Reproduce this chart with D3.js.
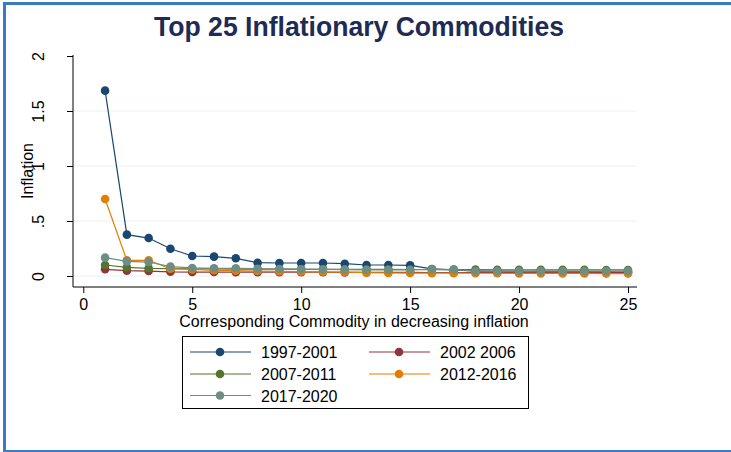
<!DOCTYPE html>
<html lang="en">
<head>
  <meta charset="UTF-8">
  <title>Top 25 Inflationary Commodities</title>
  <script src="https://d3js.org/d3.v7.min.js"></script>
  <style>
    body {
      margin: 0;
      background: white;
      font-family: "Liberation Sans", Arial, sans-serif;
    }
    svg { display: block; }
    .axis text { font-size: 16px; fill: #000; font-family: "Liberation Sans", Arial, sans-serif; }
    .axis path, .axis line { stroke: #000; }
  </style>
</head>
<body>
  <svg width="731" height="452"></svg>

  <script>
    // rank of commodity (1 = most inflationary)
    const ranks = d3.range(1, 26);

    const s1997 = [1.685, 0.376, 0.345, 0.248, 0.182, 0.176, 0.161, 0.121, 0.118, 0.118, 0.118, 0.112, 0.10,
                   0.10, 0.097, 0.064, 0.055, 0.045, 0.044, 0.043, 0.042, 0.041, 0.040, 0.038, 0.036];
    const s2002 = [0.061, 0.048, 0.045, 0.038, 0.036, 0.036, 0.035, 0.035, 0.034, 0.034, 0.034, 0.033, 0.033,
                   0.033, 0.033, 0.032, 0.032, 0.032, 0.031, 0.031, 0.031, 0.030, 0.030, 0.030, 0.030];
    const s2007 = [0.10, 0.079, 0.070, 0.067, 0.065, 0.064, 0.063, 0.062, 0.062, 0.061, 0.061, 0.060, 0.060,
                   0.060, 0.059, 0.059, 0.058, 0.058, 0.057, 0.057, 0.056, 0.056, 0.056, 0.055, 0.055];
    const s2012 = [0.70, 0.142, 0.142, 0.066, 0.060, 0.052, 0.048, 0.045, 0.042, 0.040, 0.038, 0.036, 0.030,
                   0.028, 0.027, 0.026, 0.026, 0.025, 0.025, 0.024, 0.024, 0.023, 0.023, 0.022, 0.022];
    const s2017 = [0.167, 0.133, 0.127, 0.085, 0.073, 0.070, 0.070, 0.066, 0.064, 0.062, 0.060, 0.058, 0.055,
                   0.055, 0.055, 0.060, 0.058, 0.046, 0.045, 0.045, 0.045, 0.045, 0.045, 0.045, 0.045];

    const seriesNames = ["1997-2001", "2002 2006", "2007-2011", "2012-2016", "2017-2020"];
    const seriesColors = ["#1a476f", "#90353b", "#55752f", "#e37e00", "#6e8e84"];
    const seriesValues = [s1997, s2002, s2007, s2012, s2017];

    const xTicks = [0, 5, 10, 15, 20, 25];
    const yTicks = [0, 0.5, 1, 1.5, 2];
    const yTickLabels = ["0", ".5", "1", "1.5", "2"];

    const svg = d3.select("svg");

    // frame: blue lines top, left and bottom
    const frame = "#3b7cc0";
    svg.append("line").attr("x1", 3).attr("x2", 731).attr("y1", 3.5).attr("y2", 3.5)
      .attr("stroke", frame).attr("stroke-width", 3);
    svg.append("line").attr("x1", 4.5).attr("x2", 4.5).attr("y1", 2).attr("y2", 452)
      .attr("stroke", frame).attr("stroke-width", 3);
    svg.append("line").attr("x1", 3).attr("x2", 731).attr("y1", 451).attr("y2", 451)
      .attr("stroke", frame).attr("stroke-width", 2);

    const x = d3.scaleLinear().domain([0, 25]).range([83.3, 628]);
    const y = d3.scaleLinear().domain([0, 2]).range([276, 56]);
    const plotLeft = 73, plotRight = 637, plotBottom = 287;

    // title
    svg.append("text")
      .attr("x", 359).attr("y", 36)
      .attr("text-anchor", "middle")
      .attr("font-size", 27)
      .attr("font-weight", "bold")
      .attr("fill", "#1e2b55")
      .attr("textLength", 410)
      .attr("lengthAdjust", "spacingAndGlyphs")
      .text("Top 25 Inflationary Commodities");

    // gridlines
    svg.append("g")
      .selectAll("line")
      .data(yTicks.slice(0, 4))
      .join("line")
      .attr("x1", plotLeft).attr("x2", plotRight)
      .attr("y1", d => y(d)).attr("y2", d => y(d))
      .attr("stroke", "#eaf2f3").attr("stroke-width", 1);

    // y axis
    const yAxis = svg.append("g")
      .attr("class", "axis")
      .attr("transform", `translate(${plotLeft},0)`)
      .call(d3.axisLeft(y).tickValues(yTicks).tickFormat((d, i) => yTickLabels[i]).tickSize(6).tickPadding(4));
    yAxis.select(".domain").attr("d", `M0,${y(2) - 1}V${plotBottom}`);
    yAxis.selectAll(".tick text")
      .attr("text-anchor", "middle")
      .attr("dy", null)
      .attr("x", null)
      .attr("transform", "translate(-29.5,0) rotate(-90)");

    // x axis
    const xAxis = svg.append("g")
      .attr("class", "axis")
      .attr("transform", `translate(0,${plotBottom})`)
      .call(d3.axisBottom(x).tickValues(xTicks).tickSize(6).tickPadding(6));
    xAxis.select(".domain").attr("d", `M${plotLeft},0H${plotRight}`);

    // axis titles
    svg.append("text")
      .attr("x", 354).attr("y", 327)
      .attr("text-anchor", "middle")
      .attr("font-size", 16)
      .text("Corresponding Commodity in decreasing inflation");

    svg.append("text")
      .attr("transform", `translate(33,171) rotate(-90)`)
      .attr("text-anchor", "middle")
      .attr("font-size", 16)
      .text("Inflation");

    // series
    const line = d3.line().x((d, i) => x(ranks[i])).y(d => y(d));
    seriesValues.forEach((vals, k) => {
      const g = svg.append("g");
      g.append("path")
        .attr("d", line(vals))
        .attr("fill", "none")
        .attr("stroke", seriesColors[k])
        .attr("stroke-width", 1.2);
      g.selectAll("circle")
        .data(vals)
        .join("circle")
        .attr("cx", (d, i) => x(ranks[i]))
        .attr("cy", d => y(d))
        .attr("r", 4.3)
        .attr("fill", seriesColors[k]);
    });

    // legend
    const legend = svg.append("g");
    legend.append("rect")
      .attr("x", 182.5).attr("y", 336.5)
      .attr("width", 346).attr("height", 72)
      .attr("fill", "white").attr("stroke", "#000").attr("stroke-width", 1);

    const legendPos = [[190, 352], [369, 352], [190, 374], [369, 374], [190, 395.5]];
    seriesNames.forEach((name, k) => {
      const [lx, ly] = legendPos[k];
      legend.append("line")
        .attr("x1", lx).attr("x2", lx + 61).attr("y1", ly).attr("y2", ly)
        .attr("stroke", seriesColors[k]).attr("stroke-width", 1.2);
      legend.append("circle")
        .attr("cx", lx + 30).attr("cy", ly).attr("r", 4.3)
        .attr("fill", seriesColors[k]);
      legend.append("text")
        .attr("x", lx + 71).attr("y", ly + 6)
        .attr("font-size", 16)
        .text(name);
    });
  </script>
</body>
</html>
